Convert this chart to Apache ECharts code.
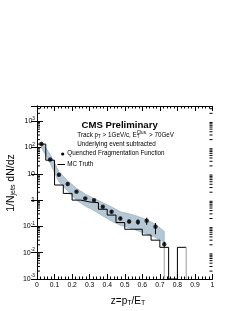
<!DOCTYPE html>
<html><head><meta charset="utf-8">
<script src="https://cdn.jsdelivr.net/npm/echarts@6/dist/echarts.min.js"></script>
<style>html,body{margin:0;padding:0;background:#fff}#c{width:240px;height:311px}</style>
</head><body><div id="c"></div>
<script>
// ---- data ----
const zEdges   = [0,0.05,0.1,0.15,0.2,0.25,0.3,0.35,0.4,0.45,0.5,0.55,0.6,0.65,0.7,0.75,0.8,0.85];
const mcTruth  = [135,33,3.75,1.8,1.0,0.85,0.8,0.45,0.27,0.14,0.078,0.078,0.047,0.03,0.016,0,0.016];
const zCenters = [0.025,0.075,0.125,0.175,0.225,0.275,0.325,0.375,0.425,0.475,0.525,0.575,0.625,0.675,0.725];
const quenched = [136,35,9.2,4.1,2.1,1.17,1.0,0.56,0.36,0.20,0.153,0.147,0.165,0.098,0.021];
const errLow   = [130,33,8.7,3.85,1.95,1.08,0.92,0.51,0.32,0.175,0.13,0.115,0.115,0.05,0.017];
const errHigh  = [142,37,9.7,4.35,2.25,1.27,1.09,0.61,0.40,0.23,0.18,0.185,0.215,0.135,0.026];
const bandUpper= [170,55,12,5.5,2.8,1.7,1.15,0.8,0.55,0.36,0.30,0.24,0.18,0.12,0.065];
const bandLower= [100,25,5,2.2,1.0,0.6,0.4,0.25,0.16,0.11,0.09,0.068,0.052,0.038,0.025];
const xTickLabels = ['0','0.1','0.2','0.3','0.4','0.5','0.6','0.7','0.8','0.9','1'];
const yTickExps = {'-3':'-3','-2':'-2','-1':'-1','0':'','1':'','2':'2','3':'3'};
const yMin = 0.001, yMax = 3800;

// ---- build ----
const FONT = '"Liberation Sans", Arial, sans-serif';
const stepData = [];
for (let i = 0; i < mcTruth.length; i++) stepData.push([zEdges[i], mcTruth[i] > 0 ? mcTruth[i] : yMin]);
stepData.push([zEdges[zEdges.length-1], mcTruth[mcTruth.length-1]]);
const lastEdge = zEdges[zEdges.length-1];

const minorTicks = [];
for (let n = -3; n <= 3; n++) for (let k = 2; k <= 9; k++) { const v = k*Math.pow(10,n); if (v < yMax) minorTicks.push([0, v]); }

const chart = echarts.init(document.getElementById('c'), null, {renderer:'canvas'});
const yLabelFmt = v => {
  const e = Math.round(Math.log10(v));
  if (Math.abs(Math.log10(v) - e) > 1e-6) return '';
  if (e === 0) return '{b|1}';
  if (e === 1) return '{b|10}';
  return '{b|10}{s|' + yTickExps[String(e)] + '}';
};
const yAxisBase = {
  type:'log', logBase:10, min:yMin, max:yMax,
  axisLine:{show:true, lineStyle:{color:'#000', width:1}},
  axisTick:{show:true, inside:true, length:6, lineStyle:{color:'#000', width:1}},
  splitLine:{show:false}
};
const xAxisBase = {
  type:'value', min:0, max:1, interval:0.1,
  axisLine:{show:true, onZero:false, lineStyle:{color:'#000', width:1}},
  axisTick:{show:true, inside:true, length:5, lineStyle:{color:'#000', width:1}},
  minorTick:{show:true, splitNumber:5, length:2.5, lineStyle:{color:'#000', width:1}},
  splitLine:{show:false}, minorSplitLine:{show:false}
};

chart.setOption({
  animation:false,
  backgroundColor:'#fff',
  grid:{left:37, right:27.5, top:106, bottom:32, containLabel:false, outerBoundsMode:'none'},
  xAxis:[
    Object.assign({}, xAxisBase, {position:'bottom',
      axisLabel:{show:true, margin:3, fontSize:6.8, fontFamily:FONT, color:'#000',
        formatter: v => xTickLabels[Math.round(v*10)]}}),
    Object.assign({}, xAxisBase, {position:'top', axisLabel:{show:false}})
  ],
  yAxis:[
    Object.assign({}, yAxisBase, {position:'left',
      axisLabel:{show:true, margin:2, formatter:yLabelFmt, color:'#000',
        rich:{b:{fontSize:7, fontFamily:FONT, color:'#000'},
              s:{fontSize:4.8, fontFamily:FONT, color:'#000', padding:[0,0,6,0]}}}}),
    Object.assign({}, yAxisBase, {position:'right', axisLabel:{show:false}})
  ],
  series:[
    { // systematic band
      type:'custom', xAxisIndex:0, yAxisIndex:0, clip:true, z:1,
      data:[[0.5, 1]],
      renderItem:(params, api) => {
        const pts = [];
        for (let i = 0; i < zCenters.length; i++) pts.push(api.coord([zCenters[i], bandUpper[i]]));
        for (let i = zCenters.length-1; i >= 0; i--) pts.push(api.coord([zCenters[i], bandLower[i]]));
        const n = zCenters.length-1;
        const a = api.coord([zCenters[n], bandLower[n]]);
        const b = api.coord([zCenters[n], yMin]);
        return {type:'group', children:[
          {type:'polygon', shape:{points:pts}, style:{fill:'#b6c8d6', stroke:'#9fb4c4', lineWidth:0.8}},
          {type:'line', shape:{x1:a[0], y1:a[1], x2:b[0], y2:b[1]}, style:{stroke:'#a0a0a0', lineWidth:1}}
        ]};
      }
    },
    { // MC truth histogram
      type:'line', step:'end', data:stepData, symbol:'none', z:3,
      lineStyle:{color:'#000', width:1}
    },
    { // right edge of last bin
      type:'line', data:[[lastEdge, mcTruth[mcTruth.length-1]], [lastEdge, yMin]], symbol:'none', z:3,
      lineStyle:{color:'#999', width:1}
    },
    { // error bars
      type:'custom', z:4,
      data: zCenters.map((z,i) => [z, errLow[i], errHigh[i]]),
      encode:{x:0, y:[1,2]},
      renderItem:(params, api) => {
        const p1 = api.coord([api.value(0), api.value(1)]);
        const p2 = api.coord([api.value(0), api.value(2)]);
        return {type:'line', shape:{x1:p1[0], y1:p1[1], x2:p2[0], y2:p2[1]}, style:{stroke:'#000', lineWidth:1}};
      }
    },
    { // data points
      type:'scatter', symbol:'circle', symbolSize:4.4, z:5,
      data: zCenters.map((z,i) => [z, quenched[i]]),
      itemStyle:{color:'#000'}
    },
    { // log minor ticks on left and right
      type:'custom', z:6,
      data: minorTicks,
      renderItem:(params, api) => {
        const v = api.value(1);
        const l = api.coord([0, v]);
        const r = api.coord([1, v]);
        return {type:'group', children:[
          {type:'line', shape:{x1:l[0], y1:l[1], x2:l[0]+3, y2:l[1]}, style:{stroke:'#000', lineWidth:1}},
          {type:'line', shape:{x1:r[0], y1:r[1], x2:r[0]-3, y2:r[1]}, style:{stroke:'#000', lineWidth:1}}
        ]};
      }
    }
  ],
  graphic:[
    {type:'text', x:81.5, y:125, style:{text:'CMS Preliminary', font:'bold 9.6px ' + FONT, fill:'#000', align:'left', verticalAlign:'middle'}},
    {type:'text', x:77.3, y:135, style:{
      text:'Track p{sub|T} > 1GeV/c, E{sub0|T}{sup|Clus.} > 70GeV',
      fontSize:6.3, fontFamily:FONT, fill:'#000', align:'left', verticalAlign:'middle',
      rich:{
        sub:{fontSize:4.6, fontFamily:FONT, fill:'#000', padding:[4,0,0,0]},
        sub0:{fontSize:4.6, fontFamily:FONT, fill:'#000', padding:[4,0,0,0], width:0.01},
        sup:{fontSize:4.6, fontFamily:FONT, fill:'#000', padding:[0,0,5,0]}
      }}},
    {type:'text', x:77.3, y:144.5, style:{text:'Underlying event subtracted', fontSize:6.3, fontFamily:FONT, fill:'#000', align:'left', verticalAlign:'middle'}},
    {type:'circle', shape:{cx:62.7, cy:154, r:1.6}, style:{fill:'#000'}},
    {type:'text', x:67.3, y:153.5, style:{text:'Quenched Fragmentation Function', fontSize:6.3, fontFamily:FONT, fill:'#000', align:'left', verticalAlign:'middle'}},
    {type:'line', shape:{x1:57.5, y1:164.5, x2:65, y2:164.5}, style:{stroke:'#000', lineWidth:1}},
    {type:'text', x:67.3, y:164.5, style:{text:'MC Truth', fontSize:6.3, fontFamily:FONT, fill:'#000', align:'left', verticalAlign:'middle'}},
    {type:'text', x:11, y:183, rotation:Math.PI/2, style:{
      text:'1/N{sub|jets} dN/dz', fontSize:10.5, fontFamily:FONT, fill:'#000', align:'center', verticalAlign:'middle',
      rich:{sub:{fontSize:7, fontFamily:FONT, fill:'#000', padding:[5,0,0,0]}}}},
    {type:'text', x:128, y:301, style:{
      text:'z=p{sub|T}/E{sub|T}', fontSize:10, fontFamily:FONT, fill:'#000', align:'center', verticalAlign:'middle',
      rich:{sub:{fontSize:7, fontFamily:FONT, fill:'#000', padding:[5,0,0,0]}}}}
  ]
});
</script></body></html>
